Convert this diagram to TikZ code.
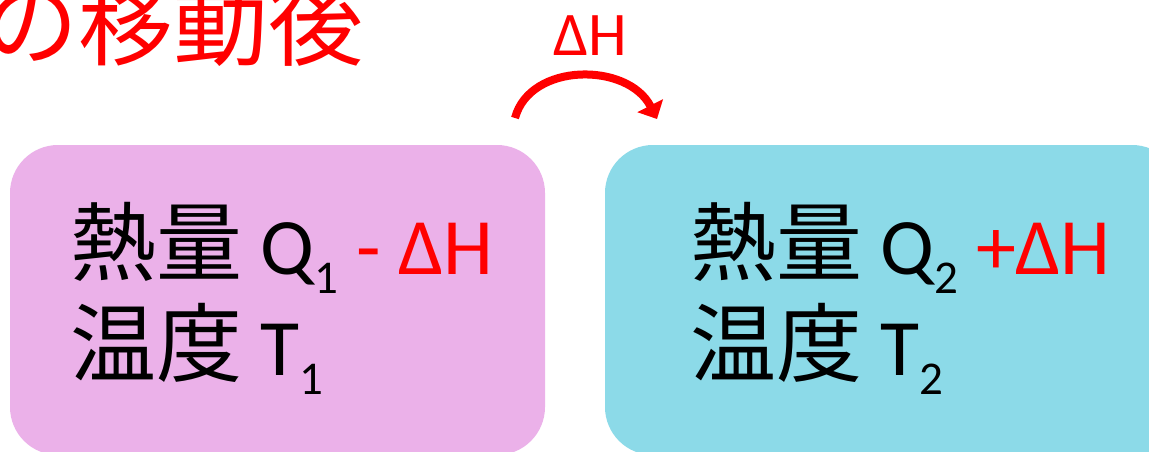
\documentclass[tikz,border=0pt]{standalone}
\usepackage{fontspec}
\setmainfont{Carlito}
\newfontfamily\cjk{Noto Sans CJK JP}
\usetikzlibrary{arrows.meta}
\definecolor{pinkbox}{HTML}{EBB1E9}
\definecolor{bluebox}{HTML}{8CDAE8}
\definecolor{myred}{HTML}{FF0000}
\newcommand{\mysub}[1]{\raisebox{-19pt}{\fontsize{47}{47}\selectfont #1}}
\newcommand{\jp}[1]{{\fontsize{86}{86}\selectfont\cjk #1}}
\tikzset{
  box/.style={rounded corners=48pt, draw=none},
  line/.style={anchor=base west, inner sep=0pt, font=\fontsize{80}{80}\selectfont},
}
\begin{document}
\begin{tikzpicture}[x=1pt,y=-1pt]
\useasboundingbox (0,0) rectangle (1149,451);
\clip (0,0) rectangle (1149,451);
\fill[white] (0,0) rectangle (1149,451);
% title
\node[anchor=base west, inner sep=0pt, text=myred, font=\fontsize{95}{95}\selectfont\cjk] (title) at (-17,58) {の移動後};
% boxes
\fill[box, pinkbox] (10,145) rectangle (545,455);
\fill[box, bluebox] (605,145) rectangle (1180,455);
% texts
\node[line] (q1) at (70,274) {\jp{熱量} Q\mysub{1} \textcolor{myred}{- ΔH}};
\node[line] (t1) at (70,375) {\jp{温度} T\mysub{1}};
\node[line] (q2) at (690,274) {\jp{熱量} Q\mysub{2} \textcolor{myred}{+ΔH}};
\node[line] (t2) at (690,375) {\jp{温度} T\mysub{2}};
% arrow
\coordinate (a0) at (515,118);
\coordinate (a1) at (657,119);
\draw[myred, line width=8pt, -{Triangle[length=15pt,width=28pt]}] (a0) .. controls (530,62) and (628,62) .. (a1);
\node[text=myred, font=\fontsize{62}{62}\selectfont, inner sep=0pt] (dh) at (590,36) {ΔH};
\end{tikzpicture}
\end{document}
